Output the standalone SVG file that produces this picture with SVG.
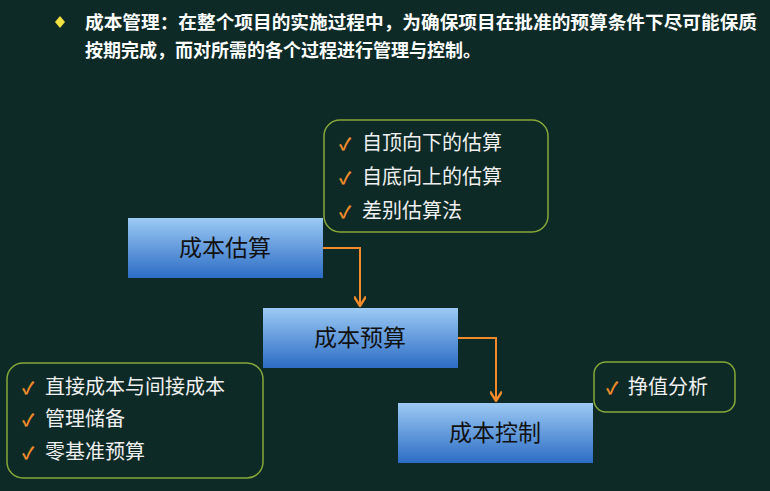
<svg xmlns="http://www.w3.org/2000/svg" width="770" height="491" viewBox="0 0 770 491">
<defs>
<linearGradient id="bg" x1="0" y1="0" x2="0" y2="1"><stop offset="0" stop-color="#9ccaf4"/><stop offset="1" stop-color="#2c6cc4"/></linearGradient>
<marker id="ah" markerWidth="12" markerHeight="12" refX="9" refY="5" orient="auto" markerUnits="userSpaceOnUse" viewBox="0 0 10 10"><path d="M1,0 L9,5 L1,10" fill="none" stroke="#f08a2a" stroke-width="2"/></marker>
<style>
text{font-family:"Noto Sans CJK SC","Liberation Sans",sans-serif}
.box{fill:url(#bg)}
.bt{font-size:23px;fill:#111;text-anchor:middle}
.co{fill:none;stroke:#86a838;stroke-width:1.5}
.ct{font-size:20px;fill:#f0f0f0}
.ck{fill:#f08a2a;font-size:17px;font-weight:bold}
.hd{font-size:18px;fill:#fff;font-weight:bold}
.cn{fill:none;stroke:#f08a2a;stroke-width:2}
</style>
</defs>
<rect width="770" height="491" fill="#0d2a27"/>
<path d="M60,16 L65,22 L60,28 L55,22 Z" fill="#f0e040"/>
<text class="hd" x="85" y="29" textLength="672" lengthAdjust="spacingAndGlyphs">成本管理：在整个项目的实施过程中，为确保项目在批准的预算条件下尽可能保质</text>
<text class="hd" x="85" y="57">按期完成，而对所需的各个过程进行管理与控制。</text>
<g id="connectors">
<path class="cn" d="M323,248 H360 V306" marker-end="url(#ah)"/>
<path class="cn" d="M458,338 H496 V401" marker-end="url(#ah)"/>
</g>
<g id="n1"><rect class="box" x="128" y="218" width="195" height="60"/><text class="bt" x="225" y="256">成本估算</text></g>
<g id="n2"><rect class="box" x="263" y="308" width="195" height="60"/><text class="bt" x="360" y="346">成本预算</text></g>
<g id="n3"><rect class="box" x="398" y="403" width="195" height="60"/><text class="bt" x="495" y="441">成本控制</text></g>
<g id="c1"><rect class="co" x="324" y="120" width="224" height="112" rx="16"/>
<text class="ck" x="339" y="150">✓</text><text class="ct" x="362" y="150">自顶向下的估算</text>
<text class="ck" x="339" y="184">✓</text><text class="ct" x="362" y="184">自底向上的估算</text>
<text class="ck" x="339" y="218">✓</text><text class="ct" x="362" y="218">差别估算法</text></g>
<g id="c2"><rect class="co" x="7" y="363" width="256" height="115" rx="16"/>
<text class="ck" x="22" y="394">✓</text><text class="ct" x="45" y="394">直接成本与间接成本</text>
<text class="ck" x="22" y="426">✓</text><text class="ct" x="45" y="426">管理储备</text>
<text class="ck" x="22" y="459">✓</text><text class="ct" x="45" y="459">零基准预算</text></g>
<g id="c3"><rect class="co" x="594" y="362" width="141" height="50" rx="12"/>
<text class="ck" x="606" y="394">✓</text><text class="ct" x="628" y="394">挣值分析</text></g>
</svg>
